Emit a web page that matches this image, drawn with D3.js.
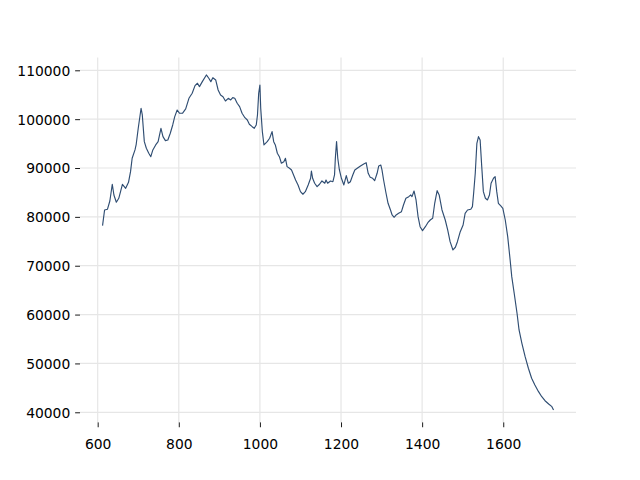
<!DOCTYPE html>
<html>
<head>
<meta charset="utf-8">
<script src="https://cdn.jsdelivr.net/npm/d3@7"></script>
<style>
html,body{margin:0;padding:0;background:#fff;}
svg{display:block;}
text{font-family:"DejaVu Sans",sans-serif;}
</style>
</head>
<body>
<svg id="chart" width="640" height="480"></svg>
<script>
const xValues = [612,617,624,630,636,640,646,652,661,669,676,681,685,692,695,700,707,710,715,720,726,731,736,743,749,756,761,767,773,779,785,790,796,802,809,817,825,833,840,846,851,858,868,874,879,884,891,897,903,909,915,922,928,933,938,944,950,956,963,969,974,981,986,991,994,997,1000,1002,1006,1010,1018,1024,1030,1034,1038,1043,1048,1053,1059,1063,1067,1073,1078,1083,1088,1094,1100,1106,1112,1119,1125,1127,1130,1135,1141,1147,1153,1160,1163,1167,1174,1180,1184,1186,1189,1192,1196,1201,1207,1213,1218,1223,1229,1234,1240,1248,1256,1262,1267,1272,1278,1283,1289,1293,1298,1301,1305,1311,1316,1322,1326,1331,1336,1342,1349,1354,1360,1367,1372,1375,1380,1385,1390,1395,1401,1408,1414,1420,1426,1431,1437,1442,1449,1457,1463,1469,1476,1482,1487,1494,1501,1506,1512,1520,1524,1527,1531,1535,1539,1543,1547,1551,1556,1561,1566,1570,1576,1580,1584,1588,1594,1599,1605,1611,1617,1621,1627,1634,1639,1646,1654,1662,1670,1678,1687,1695,1703,1712,1720,1724];
const yValues = [78200,81400,81550,83250,86670,84480,83000,83800,86670,85850,87080,89250,92000,93700,94860,98130,102230,100860,95400,94040,93020,92320,93700,94720,95400,98130,96420,95600,95740,97110,98810,100510,101880,101200,101200,102090,104270,105300,106860,107350,106660,107680,109050,108370,107680,108490,108020,105970,104950,104600,103720,104270,103930,104400,104270,103250,102560,101200,100300,99830,98950,98460,98130,98810,100860,105300,107000,102230,97440,94720,95400,96090,97440,95400,94720,93020,92320,90970,91300,91990,90280,89950,89600,88580,87550,86530,85160,84630,85160,86530,87900,89390,87900,86880,86180,86670,87350,86880,87550,86880,87350,87200,88580,91990,95400,91990,89600,87900,86530,88440,86880,87200,88580,89600,89950,90420,90830,91090,88920,88100,87900,87410,88920,90420,90620,89600,87550,84830,82780,81410,80390,79920,80390,80730,81060,82430,83810,84140,84480,84140,85300,83460,80040,77990,77180,77990,78810,79360,79710,82780,85360,84480,81410,79360,77320,74920,73220,73780,74920,76970,78340,80730,81410,81550,82090,84830,88920,95060,96420,95740,90280,85160,83810,83460,84480,86880,87900,88230,85160,82780,82230,81760,79360,75950,71180,67760,64360,60270,56850,54120,51380,49010,46960,45590,44220,43190,42370,41700,41150,40470];
const xTicks = [600,800,1000,1200,1400,1600];
const yTicks = [40000,50000,60000,70000,80000,90000,100000,110000];

const plotLeft = 80, plotRight = 576, plotTop = 57.6, plotBottom = 422.4;
const svg = d3.select("#chart");

const x = d3.scaleLinear().domain([556.4, 1779.4]).range([plotLeft, plotRight]);
const y = d3.scaleLinear().domain([37930, 112600]).range([plotBottom, plotTop]);

const tickLen = 4.86, pad = 4.86, fs = 13.89;

// grid
svg.append("g").selectAll("line").data(xTicks).join("line")
  .attr("x1", d => x(d)).attr("x2", d => x(d))
  .attr("y1", plotTop).attr("y2", plotBottom)
  .attr("stroke", "#e6e6e6").attr("stroke-width", 1.2);
svg.append("g").selectAll("line").data(yTicks).join("line")
  .attr("x1", plotLeft).attr("x2", plotRight)
  .attr("y1", d => y(d)).attr("y2", d => y(d))
  .attr("stroke", "#e6e6e6").attr("stroke-width", 1.2);

// axes
const xAxis = d3.axisBottom(x).tickValues(xTicks).tickSize(tickLen).tickPadding(pad).tickFormat(d3.format("d"));
const yAxis = d3.axisLeft(y).tickValues(yTicks).tickSize(tickLen).tickPadding(pad).tickFormat(d3.format("d"));

const gx = svg.append("g").attr("transform", `translate(0,${plotBottom})`).call(xAxis);
const gy = svg.append("g").attr("transform", `translate(${plotLeft},0)`).call(yAxis);
[gx, gy].forEach(g => {
  g.select(".domain").remove();
  g.selectAll(".tick line").attr("stroke", "#000").attr("stroke-width", 0.9);
  g.selectAll(".tick text").attr("fill", "#000")
    .style("font-family", "'DejaVu Sans', sans-serif").style("font-size", fs + "px");
});
gx.selectAll(".tick text").attr("dy", null).attr("y", 26.6);
gy.selectAll(".tick text").attr("dy", "0.35em");

// line
const data = xValues.map((v, i) => [v, yValues[i]]);
svg.append("path").datum(data)
  .attr("fill", "none")
  .attr("stroke", "#2f4d72")
  .attr("stroke-width", 1.15)
  .attr("stroke-linejoin", "round")
  .attr("d", d3.line().x(d => x(d[0])).y(d => y(d[1])));
</script>
</body>
</html>
